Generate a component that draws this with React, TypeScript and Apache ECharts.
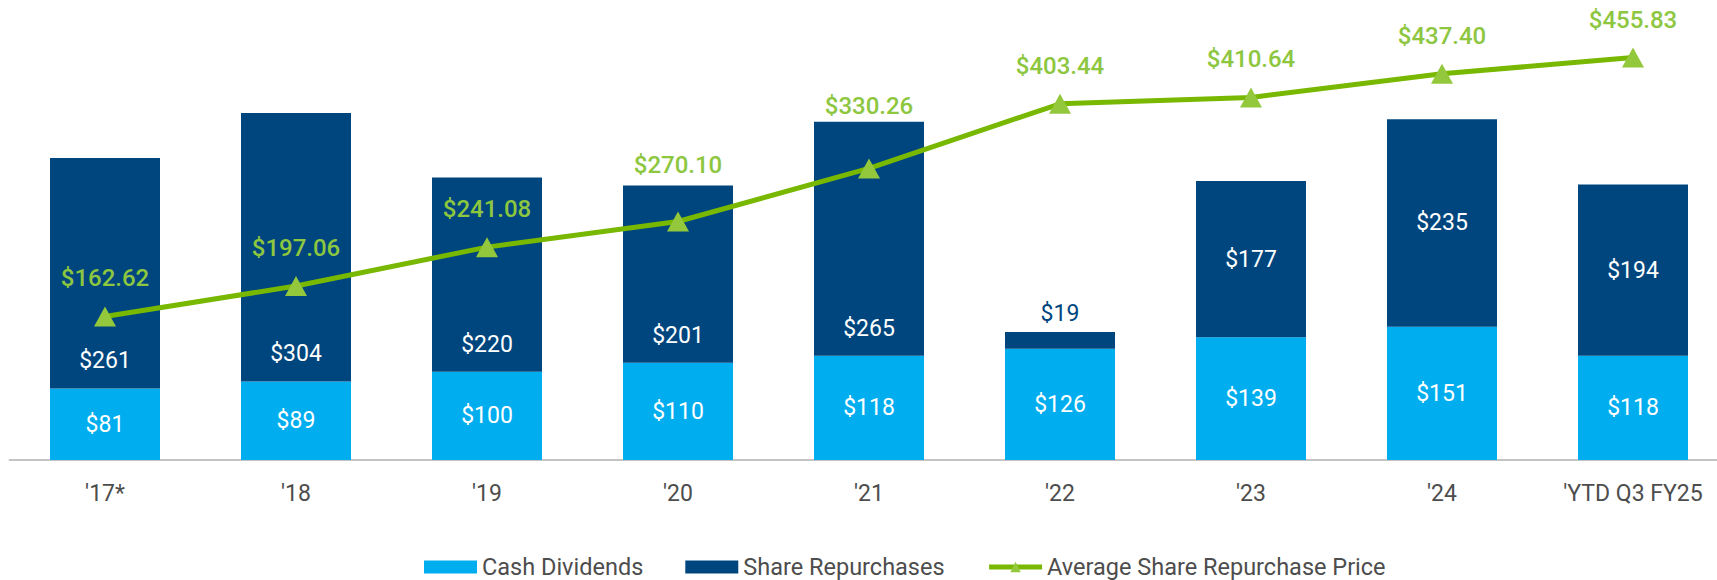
import React, { useEffect, useRef } from "react";
import * as echarts from "echarts";

const categories = ["'17*", "'18", "'19", "'20", "'21", "'22", "'23", "'24", "'YTD Q3 FY25"];
const cashDividends = [81, 89, 100, 110, 118, 126, 139, 151, 118];
const shareRepurchases = [261, 304, 220, 201, 265, 19, 177, 235, 194];
const avgPrice = [162.62, 197.06, 241.08, 270.1, 330.26, 403.44, 410.64, 437.4, 455.83];

const LIGHT = "#00AEEF";
const DARK = "#00467E";
const LINE = "#78B800";
const MARK = "#93C83C";
const FONT = "Roboto";

export default function App() {
  const ref = useRef<HTMLDivElement>(null);
  useEffect(() => {
    if (!ref.current) return;
    const chart = echarts.init(ref.current, undefined, { renderer: "svg" });
    const repData = shareRepurchases.map((v, i) => {
      if (v < 40) {
        return { value: v, label: { position: "top", color: DARK, distance: 7 } };
      }
      if (i < 5) {
        return { value: v, label: { position: "insideBottom", distance: 16 } };
      }
      return { value: v, label: { position: "inside" } };
    });
    // labels that would collide with a bar top are lifted above it
    const lineData = avgPrice.map((v, i) => {
      const barTop = cashDividends[i] + shareRepurchases[i];
      const gap = barTop - v;
      if (gap > 0 && gap < 60) {
        return { value: v, label: { distance: 14 + gap * 0.5 } };
      }
      return v;
    });
    chart.setOption({
      animation: false,
      textStyle: { fontFamily: FONT },
      grid: { left: 9.5, top: 18.5, width: 1719, height: 441.5, containLabel: false },
      legend: {
        left: 419,
        top: 550,
        itemWidth: 53,
        itemHeight: 13,
        itemGap: 42,
        textStyle: { fontSize: 23.5, lineHeight: 24, color: "#4D4D4D", fontFamily: FONT },
        data: [
          { name: "Cash Dividends", icon: "rect" },
          { name: "Share Repurchases", icon: "rect" },
          { name: "Average Share Repurchase Price", lineStyle: { width: 5, color: LINE } },
        ],
      },
      xAxis: {
        type: "category",
        data: categories,
        boundaryGap: true,
        axisTick: { show: false },
        axisLine: { lineStyle: { color: "#C4C4C4", width: 2 } },
        axisLabel: { fontSize: 23, color: "#4D4D4D", margin: 22, fontFamily: FONT },
      },
      yAxis: {
        type: "value",
        min: 0,
        max: 500,
        show: false,
        splitLine: { show: false },
      },
      series: [
        {
          name: "Cash Dividends",
          type: "bar",
          stack: "total",
          barWidth: 110,
          itemStyle: { color: LIGHT },
          label: {
            show: true,
            position: "inside",
            color: "#FFFFFF",
            fontSize: 23,
            fontFamily: FONT,
            formatter: (p: any) => "$" + p.value,
          },
          data: cashDividends,
        },
        {
          name: "Share Repurchases",
          type: "bar",
          stack: "total",
          barWidth: 110,
          itemStyle: { color: DARK },
          label: {
            show: true,
            position: "inside",
            color: "#FFFFFF",
            fontSize: 23,
            fontFamily: FONT,
            formatter: (p: any) => "$" + p.value,
          },
          data: repData,
        },
        {
          name: "Average Share Repurchase Price",
          type: "line",
          z: 5,
          symbol: "triangle",
          symbolSize: [22, 20],
          itemStyle: { color: MARK },
          lineStyle: { color: LINE, width: 5 },
          label: {
            show: true,
            position: "top",
            distance: 16,
            color: "#8DC63F",
            fontSize: 24,
            fontWeight: 500,
            fontFamily: FONT,
            formatter: (p: any) => "$" + Number(p.value).toFixed(2),
          },
          data: lineData,
        },
      ],
    });
    return () => chart.dispose();
  }, []);
  return (
    <div
      style={{ position: "fixed", left: 0, top: 0, width: 1717, height: 580, overflow: "hidden", background: "#FFFFFF" }}
    >
      <div ref={ref} style={{ width: 1740, height: 580 }} />
    </div>
  );
}
